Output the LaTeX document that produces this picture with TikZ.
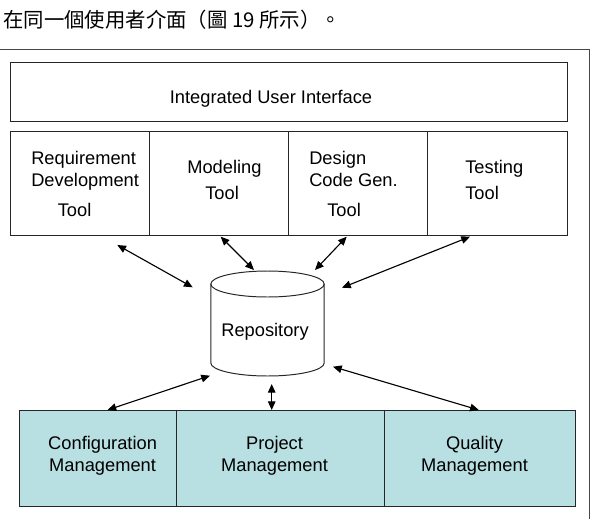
\documentclass[tikz,border=0pt]{standalone}
\usepackage{fontspec}
\setmainfont{Liberation Sans}
\newfontfamily\cjk{Noto Sans CJK TC}
\usepackage{xcolor}
\usepackage{tikz}
\usetikzlibrary{positioning,arrows.meta}

\definecolor{mgmtfill}{RGB}{184,223,226}
\definecolor{framegray}{RGB}{70,70,70}

\tikzset{
  box/.style={draw=black!85, line width=0.7pt, rectangle, inner sep=0pt},
  mgmt/.style={box, fill=mgmtfill},
  lbl/.style={font=\fontsize{13}{15.6}\selectfont, inner sep=0pt},
  arr/.style={line width=0.8pt, >={Triangle[length=6.2pt,width=5.4pt]}, <->}
}

\begin{document}
\begin{tikzpicture}[x=0.025cm, y=-0.025cm]

% picture size, in pixels of the original
\useasboundingbox (0,0) rectangle (596,519);
\def\px{0.025cm}

% text line above the figure
\node[anchor=west, inner sep=0pt, font=\cjk\fontsize{14.5}{16}\selectfont] (caption) at (3,20) {在同一個使用者介面（圖 19 所示）。};

% page frame
\draw[framegray, line width=0.7pt] (0,49.5) -- (589,49.5) -- (589,519);

% Integrated user interface
\node[box, minimum width=557*\px, minimum height=59.7*\px] (iui) at (288.5,91.9) {};
\node[lbl, anchor=base] (iuitext) at (271,103) {Integrated User Interface};

% the four tools
\def\toolw{139.25}
\foreach \name [count=\i from 0] in {req,mod,des,tst} {
    \pgfmathsetmacro{\x}{10 + \toolw/2 + \i*\toolw}
    \node[box, minimum width=\toolw*\px, minimum height=104*\px] (\name) at (\x,183.7) {};
}

% tool labels
\node[lbl, anchor=base west] (req1) at (31,164.5) {Requirement};
\node[lbl, anchor=base west] (req2) at (31,186.5) {Development};
\node[lbl, anchor=base west] (req3) at (57.5,216.5) {Tool};

\node[lbl, anchor=base west] (mod1) at (187,173) {Modeling};
\node[lbl, anchor=base west] (mod2) at (205,199) {Tool};

\node[lbl, anchor=base west] (des1) at (309,164.5) {Design};
\node[lbl, anchor=base west] (des2) at (309,186.5) {Code Gen.};
\node[lbl, anchor=base west] (des3) at (327,216.5) {Tool};

\node[lbl, anchor=base west] (tst1) at (465,173) {Testing};
\node[lbl, anchor=base west] (tst2) at (465,199) {Tool};

% Repository cylinder
\def\cx{267.5}
\def\rx{56.7}
\def\ry{13}
\draw[black!85, line width=0.7pt] (\cx,284) ellipse [x radius=\rx, y radius=\ry];
\draw[black!85, line width=0.7pt] (\cx-\rx,284) -- (\cx-\rx,363)
    arc[start angle=180, end angle=0, x radius=\rx, y radius=\ry] -- (\cx+\rx,284);
\node[lbl] (repo) at (265,332) {Repository};

% management boxes
\node[mgmt, minimum width=156.7*\px, minimum height=96*\px] (cfg) at (97.65,458) {};
\node[mgmt, minimum width=208.6*\px, minimum height=96*\px] (prj) at (280.3,458) {};
\node[mgmt, minimum width=191.1*\px, minimum height=96*\px] (qua) at (480.15,458) {};

\node[lbl, align=center] (cfgtext) at (102.6,456) {Configuration\\Management};
\node[lbl, align=center] (prjtext) at (274.5,456) {Project\\Management};
\node[lbl, align=center] (quatext) at (474.5,456) {Quality\\Management};

% arrow ends
\coordinate (reqend) at (117.3,245);
\coordinate (repoa) at (192.7,287.3);
\coordinate (modend) at (220.7,236.7);
\coordinate (repob) at (254,270);
\coordinate (desend) at (346.7,236.7);
\coordinate (repoc) at (315,270);
\coordinate (tstend) at (470,236.7);
\coordinate (repod) at (342,287.7);
\coordinate (repoe) at (210,375.7);
\coordinate (cfgend) at (107.5,410);
\coordinate (repof) at (271.7,384);
\coordinate (prjend) at (271.7,410);
\coordinate (repog) at (333,366.7);
\coordinate (quaend) at (478.8,410);

% arrows between tools, repository and management
\draw[arr] (reqend) -- (repoa);
\draw[arr] (modend) -- (repob);
\draw[arr] (desend) -- (repoc);
\draw[arr] (tstend) -- (repod);
\draw[arr] (repoe) -- (cfgend);
\draw[arr] (repof) -- (prjend);
\draw[arr] (repog) -- (quaend);

\end{tikzpicture}
\end{document}
